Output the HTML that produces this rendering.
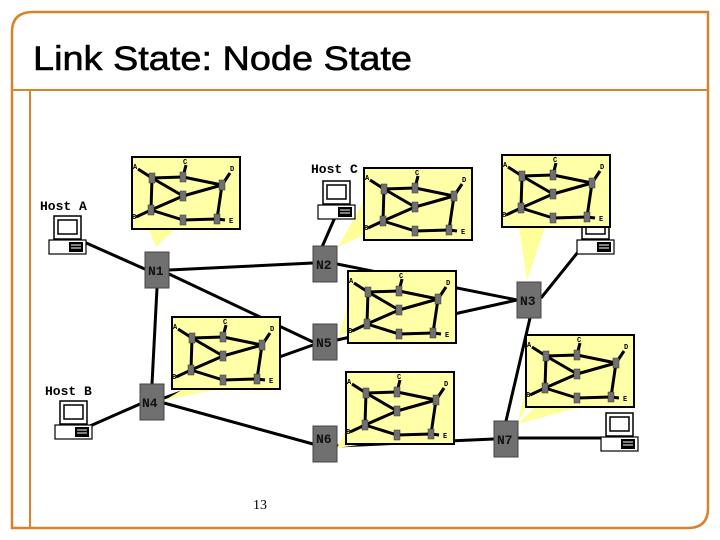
<!DOCTYPE html>
<html><head><meta charset="utf-8"><style>
html,body{margin:0;padding:0;background:#fff;width:720px;height:540px;overflow:hidden}
svg{display:block}
.h{font-family:"Liberation Mono",monospace;font-weight:bold;font-size:13px;fill:#000}
.r{font-family:"Liberation Mono",monospace;font-weight:bold;font-size:13px;fill:#111}
.m{font-family:"Liberation Mono",monospace;font-weight:bold;font-size:7px;fill:#000}
</style></head><body>
<svg width="720" height="540" viewBox="0 0 720 540" xmlns="http://www.w3.org/2000/svg">
<defs>
<g id="mg">
<rect x="0" y="0" width="108" height="72" fill="#ffffa8" stroke="#000" stroke-width="2"/>
<g stroke="#000" stroke-width="3" fill="none">
<line x1="6" y1="12" x2="20" y2="21"/><line x1="54" y1="8" x2="51" y2="20"/>
<line x1="98" y1="16" x2="90" y2="28"/><line x1="4" y1="60" x2="19" y2="53"/>
<line x1="85" y1="62" x2="93" y2="63"/>
<line x1="20" y1="21" x2="51" y2="20"/><line x1="20" y1="21" x2="51" y2="39"/>
<line x1="20" y1="21" x2="19" y2="53"/><line x1="51" y1="20" x2="90" y2="28"/>
<line x1="51" y1="39" x2="90" y2="28"/><line x1="19" y1="53" x2="51" y2="39"/>
<line x1="19" y1="53" x2="51" y2="63"/><line x1="51" y1="63" x2="85" y2="62"/>
<line x1="90" y1="28" x2="85" y2="62"/>
</g>
<g fill="#707070" stroke="#333" stroke-width="0.5">
<rect x="17" y="16" width="6" height="10"/><rect x="48" y="15" width="6" height="10"/>
<rect x="48" y="34" width="6" height="10"/><rect x="87" y="23" width="6" height="10"/>
<rect x="16" y="48" width="6" height="10"/><rect x="48" y="58" width="6" height="10"/>
<rect x="82" y="57" width="6" height="10"/>
</g>
<text class="m" x="1" y="12">A</text><text class="m" x="51" y="7">C</text>
<text class="m" x="98" y="14">D</text><text class="m" x="0" y="62">B</text>
<text class="m" x="97" y="66">E</text>
</g>
<g id="pc">
<rect x="5" y="-24" width="27" height="23" fill="#fff" stroke="#000" stroke-width="1.5"/>
<rect x="9" y="-20" width="19" height="14" fill="#fff" stroke="#000" stroke-width="1.5"/>
<rect x="0" y="0" width="37" height="14" fill="#fff" stroke="#000" stroke-width="1.2"/>
<rect x="20" y="2" width="14" height="10" fill="#000"/>
<line x1="22" y1="5" x2="32" y2="5" stroke="#fff"/><line x1="22" y1="8" x2="32" y2="8" stroke="#fff"/>
</g>
</defs>
<path d="M33,12 H708 V508 Q708,528 688,528 H12 V32 Q12,12 33,12 Z" fill="none" stroke="#d9822b" stroke-width="2.5"/>
<line x1="12" y1="90" x2="708" y2="90" stroke="#d9822b" stroke-width="2"/>
<line x1="30" y1="90" x2="30" y2="528" stroke="#d9822b" stroke-width="2"/>
<text x="33" y="70" font-family="Liberation Sans,sans-serif" font-size="34" textLength="379" lengthAdjust="spacingAndGlyphs" fill="#000" stroke="#000" stroke-width="0.6">Link State: Node State</text>
<g stroke="#000" stroke-width="3" fill="none">
<line x1="84" y1="242" x2="147" y2="270"/>
<line x1="169" y1="270" x2="313" y2="263"/>
<line x1="169" y1="274" x2="313" y2="342"/>
<line x1="157" y1="288" x2="152" y2="384"/>
<line x1="337" y1="264" x2="517" y2="300"/>
<line x1="337" y1="340" x2="517" y2="300"/>
<line x1="336" y1="215" x2="322" y2="247"/>
<line x1="578" y1="252" x2="541" y2="298"/>
<line x1="530" y1="318" x2="506" y2="421"/>
<line x1="90" y1="426" x2="140" y2="404"/>
<line x1="164" y1="398" x2="313" y2="345"/>
<line x1="164" y1="403" x2="313" y2="444"/>
<line x1="337" y1="446" x2="494" y2="439"/>
<line x1="518" y1="438" x2="602" y2="438"/>
</g>
<g fill="#ffff99">
<polygon points="148,228 176,228 156,247"/>
<polygon points="364,200 364,235 338,247"/>
<polygon points="519,227 545,227 527,281"/>
<polygon points="350,298 350,330 338,338"/>
<polygon points="185,388 225,388 165,400"/>
<polygon points="348,425 380,442 337,448"/>
<polygon points="527,380 527,407 518,422"/>
<polygon points="535,407 580,407 518,424"/>
</g>
<use href="#pc" x="49" y="240"/>
<use href="#pc" x="318" y="205"/>
<use href="#pc" x="55" y="425"/>
<use href="#pc" x="577" y="240"/>
<use href="#pc" x="601" y="437"/>
<text class="h" x="40" y="210">Host A</text>
<text class="h" x="311" y="173">Host C</text>
<text class="h" x="45" y="395">Host B</text>
<use href="#mg" x="132" y="157"/>
<use href="#mg" x="364" y="168"/>
<use href="#mg" x="502" y="155"/>
<use href="#mg" x="348" y="271"/>
<use href="#mg" x="172" y="317"/>
<use href="#mg" x="346" y="372"/>
<use href="#mg" x="526" y="335"/>
<g fill="#707070" stroke="#444" stroke-width="1">
<rect x="145" y="252" width="24" height="36"/>
<rect x="313" y="246" width="24" height="36"/>
<rect x="517" y="282" width="24" height="36"/>
<rect x="313" y="324" width="24" height="36"/>
<rect x="140" y="384" width="24" height="36"/>
<rect x="313" y="426" width="24" height="36"/>
<rect x="494" y="421" width="24" height="36"/>
</g>
<text class="r" x="148" y="275">N1</text>
<text class="r" x="316" y="269">N2</text>
<text class="r" x="520" y="305">N3</text>
<text class="r" x="316" y="347">N5</text>
<text class="r" x="142" y="407">N4</text>
<text class="r" x="316" y="443">N6</text>
<text class="r" x="497" y="444">N7</text>
<text x="253" y="509" font-family="Liberation Serif,serif" font-size="14" fill="#000">13</text>
</svg>
</body></html>
